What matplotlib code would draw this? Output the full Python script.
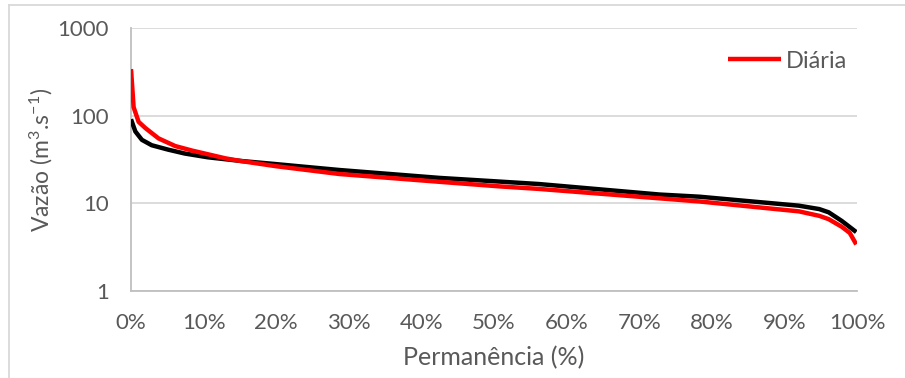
import matplotlib
matplotlib.use("Agg")
import matplotlib.pyplot as plt
from matplotlib.lines import Line2D
from matplotlib.ticker import FixedLocator, FuncFormatter, NullLocator

plt.rcParams['font.family'] = ['Lato', 'DejaVu Sans']
plt.rcParams['mathtext.fontset'] = 'custom'
plt.rcParams['mathtext.rm'] = 'Lato'
plt.rcParams['mathtext.it'] = 'Lato'

# Flow-duration curve: daily series (red) and reference series (black)
pct_diaria = [0, 0.36, 1.05, 2.0, 3.8, 6.1, 8.4, 13, 15, 20, 28.7, 42.5, 50.8,
              56.2, 72.8, 78.3, 92, 94.8, 96.1, 97.9, 99.0, 99.9]
q_diaria = [340, 125, 85, 72, 55, 45, 40, 32.6, 30.5, 26.5, 21.6, 17.6, 15.6,
            14.6, 11.4, 10.5, 8.1, 7.2, 6.6, 5.4, 4.6, 3.4]

pct_ref = [0, 0.6, 1.5, 2.85, 5.1, 7.4, 10.6, 15.2, 20, 28.7, 42.5, 50.8,
           56.2, 72.8, 78.3, 92, 94.8, 96.1, 97.9, 99.9]
q_ref = [91, 66, 53, 46, 41, 37, 33.5, 30.4, 28, 24, 19.5, 17.7,
         16.6, 12.6, 11.9, 9.4, 8.6, 7.9, 6.3, 4.7]

x_ticks = [0, 10, 20, 30, 40, 50, 60, 70, 80, 90, 100]
y_ticks = [1, 10, 100, 1000]

text_gray = '#595959'
grid_gray = '#D9D9D9'
axis_gray = '#BFBFBF'

fig = plt.figure(figsize=(9.05, 3.78), dpi=100)
ax = fig.add_axes([131 / 905, 1 - 291 / 378, (857 - 131) / 905, (291 - 28) / 378])

ax.plot(pct_ref, q_ref, color='black', lw=3.2, solid_capstyle='butt',
        solid_joinstyle='round', label='_nolegend_', zorder=3)
ax.plot(pct_diaria, q_diaria, color='#FF0000', lw=3.2, solid_capstyle='butt',
        solid_joinstyle='round', label='Diária', zorder=4)

ax.set_yscale('log')
ax.set_ylim(1, 1000)
ax.set_xlim(0, 100)
ax.yaxis.set_major_locator(FixedLocator(y_ticks))
ax.yaxis.set_minor_locator(NullLocator())
ax.yaxis.set_major_formatter(FuncFormatter(lambda v, p: f"{v:g}"))
ax.xaxis.set_major_locator(FixedLocator(x_ticks))
ax.xaxis.set_major_formatter(FuncFormatter(lambda v, p: f"{v:.0f}%"))

ax.grid(axis='y', color=grid_gray, lw=1.3)
ax.set_axisbelow(True)
for side in ('top', 'right'):
    ax.spines[side].set_visible(False)
for side in ('left', 'bottom'):
    ax.spines[side].set_color(axis_gray)
    ax.spines[side].set_linewidth(1.3)
ax.tick_params(axis='both', length=0, labelsize=16, colors=text_gray)
ax.tick_params(axis='x', pad=16)
ax.tick_params(axis='y', pad=16)

ax.set_xlabel('Permanência (%)', fontsize=18, color=text_gray, labelpad=9)
ax.set_ylabel('Vazão (m$^{3}$.s$^{-1}$)', fontsize=16.5, color=text_gray, labelpad=2)

leg = ax.legend(loc='center left', bbox_to_anchor=(728 / 905, 1 - 61 / 378),
                bbox_transform=fig.transFigure, frameon=False, fontsize=17,
                borderpad=0, borderaxespad=0, handlelength=2.25,
                handletextpad=0.2)
for t in leg.get_texts():
    t.set_color(text_gray)

# chart-area border
fig.add_artist(Line2D([9 / 905, 9 / 905], [0, 1 - 5 / 378],
                      transform=fig.transFigure, color=grid_gray, lw=1.3))
fig.add_artist(Line2D([9 / 905, 1], [1 - 5 / 378, 1 - 5 / 378],
                      transform=fig.transFigure, color=grid_gray, lw=1.3))

fig.savefig('out.png', dpi=100, facecolor='white')
